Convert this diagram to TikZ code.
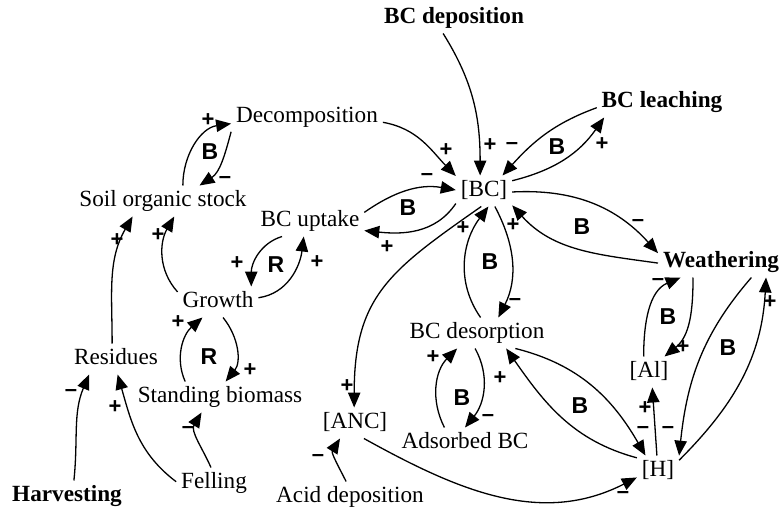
\documentclass[tikz,border=0pt]{standalone}
\usepackage{fontspec}
\setmainfont{Liberation Serif}
\newfontfamily\signfont{Liberation Sans}
\usetikzlibrary{arrows.meta}

\tikzset{
  var/.style={font=\fontsize{11.6}{13}\selectfont, inner sep=1.5pt, outer sep=1pt, text height=8pt, text depth=2.5pt},
  exo/.style={var, font=\fontsize{11.6}{13}\selectfont\bfseries},
  causal/.style={-{Triangle[length=7.5pt,width=6.2pt]}, line width=0.65pt},
  polsign/.style={font=\signfont\bfseries\fontsize{11}{12}\selectfont, inner sep=0pt},
  looptag/.style={font=\signfont\bfseries\fontsize{11.5}{12}\selectfont, inner sep=0pt}
}

\begin{document}
\begin{tikzpicture}[x=0.5pt, y=0.5pt]
        \useasboundingbox (0,0) rectangle (784,-514);

        % Variables
        \node[exo] (bcdep) at (454,-18) {BC deposition};
        \node[exo] (bcleach) at (662,-102) {BC leaching};
        \node[var] (decomp) at (307,-117) {Decomposition};
        \node[var] (bc) at (484,-191) {[BC]};
        \node[var] (soil) at (163,-201) {Soil organic stock};
        \node[var] (uptake) at (310,-221) {BC uptake};
        \node[exo] (weath) at (721,-262) {Weathering};
        \node[var] (growth) at (218,-302) {Growth};
        \node[var] (desorp) at (477,-333) {BC desorption};
        \node[var] (resid) at (116,-359) {Residues};
        \node[var] (stand) at (220,-397) {Standing biomass};
        \node[var] (al) at (649,-372) {[Al]};
        \node[var] (anc) at (355,-423) {[ANC]};
        \node[var] (adsorb) at (465,-443) {Adsorbed BC};
        \node[var] (fell) at (214,-483) {Felling};
        \node[exo] (harv) at (67,-496) {Harvesting};
        \node[var] (h) at (658,-471) {[H]};
        \node[var] (acid) at (350,-497) {Acid deposition};

        % Inputs to [BC]
        \draw[causal] (decomp.-4) to[out=-10,in=134] (bc.152);
        \draw[causal] (bcdep.-125) to[out=-58,in=90] (bc.104);
        \node[polsign] (p1) at (446,-150) {+};
        \node[polsign] (p2) at (490,-145) {+};

        % Leaching loop
        \draw[causal] (bcleach.-175) to[out=200,in=48] (bc.40);
        \draw[causal] (bc.20) to[out=14,in=-125] (bcleach.-165);
        \node[polsign] (m1) at (512,-146) {–};
        \node[polsign] (p3) at (602,-144) {+};
        \node[looptag] (b1) at (557,-147) {B};

        % Uptake loop
        \draw[causal] (uptake.9) to[out=35,in=170] (bc.178);
        \draw[causal] (bc.-156) to[out=236,in=-6] (uptake.-10);
        \node[polsign] (m2) at (427,-177) {–};
        \node[polsign] (p4) at (387,-247) {+};
        \node[looptag] (b2) at (408,-208) {B};

        % [BC] to [ANC]
        \draw[causal] (bc.-100) to[out=215,in=90,looseness=1.2] (anc.93);
        \node[polsign] (p5) at (347,-386) {+};

        % Desorption loop
        \draw[causal] (desorp.77) to[out=125,in=-127] (bc.-74);
        \draw[causal] (bc.-55) to[out=-62,in=63] (desorp.36);
        \node[polsign] (p6) at (463,-228) {+};
        \node[polsign] (m3) at (515,-302) {–};
        \node[looptag] (b3) at (490,-262) {B};

        % Weathering loop
        \draw[causal] (bc.-2) to[out=3,in=132] (weath.172);
        \draw[causal] (weath.-179) to[out=172,in=-48] (bc.-27);
        \node[polsign] (m4) at (638,-223) {–};
        \node[polsign] (p7) at (513,-225) {+};
        \node[looptag] (b4) at (582,-227) {B};

        % [Al] loop
        \draw[causal] (al.109) to[out=90,in=-157] (weath.-159);
        \draw[causal] (weath.-151) to[out=-90,in=39] (al.45);
        \node[polsign] (m5) at (658,-282) {–};
        \node[polsign] (p8) at (683,-347) {+};
        \node[looptag] (b5) at (668,-317) {B};

        % [H] loop
        \draw[causal] (weath.-27) to[out=229,in=84] (h.36);
        \draw[causal] (h.27) to[out=45,in=-93] (weath.-19);
        \draw[causal] (h.94) -- (al.-78);
        \node[polsign] (m6) at (668,-430) {–};
        \node[polsign] (p9) at (770,-302) {+};
        \node[polsign] (p10) at (645,-408) {+};
        \node[looptag] (b6) at (728,-348) {B};

        % Desorption and [H]
        \draw[causal] (desorp.-22) to[out=-14,in=120] (h.129);
        \draw[causal] (h.148) to[out=165,in=-55] (desorp.-28);
        \node[polsign] (m7) at (643,-430) {–};
        \node[polsign] (p11) at (500,-378) {+};
        \node[looptag] (b7) at (580,-406) {B};

        % Adsorption loop
        \draw[causal] (adsorb.143) to[out=117,in=-135] (desorp.-142);
        \draw[causal] (desorp.-97) to[out=-61,in=51] (adsorb.90);
        \node[polsign] (p12) at (433,-357) {+};
        \node[polsign] (m8) at (488,-418) {–};
        \node[looptag] (b8) at (462,-398) {B};

        % Acidity
        \draw[causal] (anc.-60) to[out=-29,in=-153] (h.-163);
        \draw[causal] (acid.104) to[out=117,in=-122] (anc.-134);
        \node[polsign] (m9) at (623,-495) {–};
        \node[polsign] (m10) at (318,-458) {–};

        % Decomposition loop
        \draw[causal] (soil.38) to[out=90,in=-172] (decomp.-175);
        \draw[causal] (decomp.-169) to[out=255,in=33] (soil.23);
        \node[polsign] (p13) at (208,-120) {+};
        \node[polsign] (m11) at (225,-180) {–};
        \node[looptag] (b9) at (210,-152) {B};

        % Litter inputs
        \draw[causal] (resid.104) to[out=90,in=-120] (soil.-153);
        \draw[causal] (growth.166) to[out=132,in=-120] (soil.-54);
        \node[polsign] (p14) at (117,-240) {+};
        \node[polsign] (p15) at (158,-235) {+};

        % Growth loops
        \draw[causal] (uptake.-151) to[out=197,in=90] (growth.25);
        \draw[causal] (growth.6) to[out=8,in=-97] (uptake.-112);
        \node[polsign] (p16) at (237,-263) {+};
        \node[polsign] (p17) at (317,-262) {+};
        \node[looptag] (r1) at (276,-265) {R};
        \draw[causal] (stand.156) to[out=114,in=-139] (growth.-135);
        \draw[causal] (growth.-72) to[out=-51,in=51] (stand.70);
        \node[polsign] (p18) at (178,-322) {+};
        \node[polsign] (p19) at (250,-370) {+};
        \node[looptag] (r2) at (209,-357) {R};

        % Harvest
        \draw[causal] (fell.101) to[out=114,in=-121] (stand.-140);
        \draw[causal] (fell.178) to[out=143,in=-74] (resid.-84);
        \draw[causal] (harv.66) to[out=84,in=-113] (resid.-150);
        \node[polsign] (m12) at (188,-430) {–};
        \node[polsign] (p20) at (115,-407) {+};
        \node[polsign] (m13) at (71,-393) {–};

    \end{tikzpicture}
\end{document}
